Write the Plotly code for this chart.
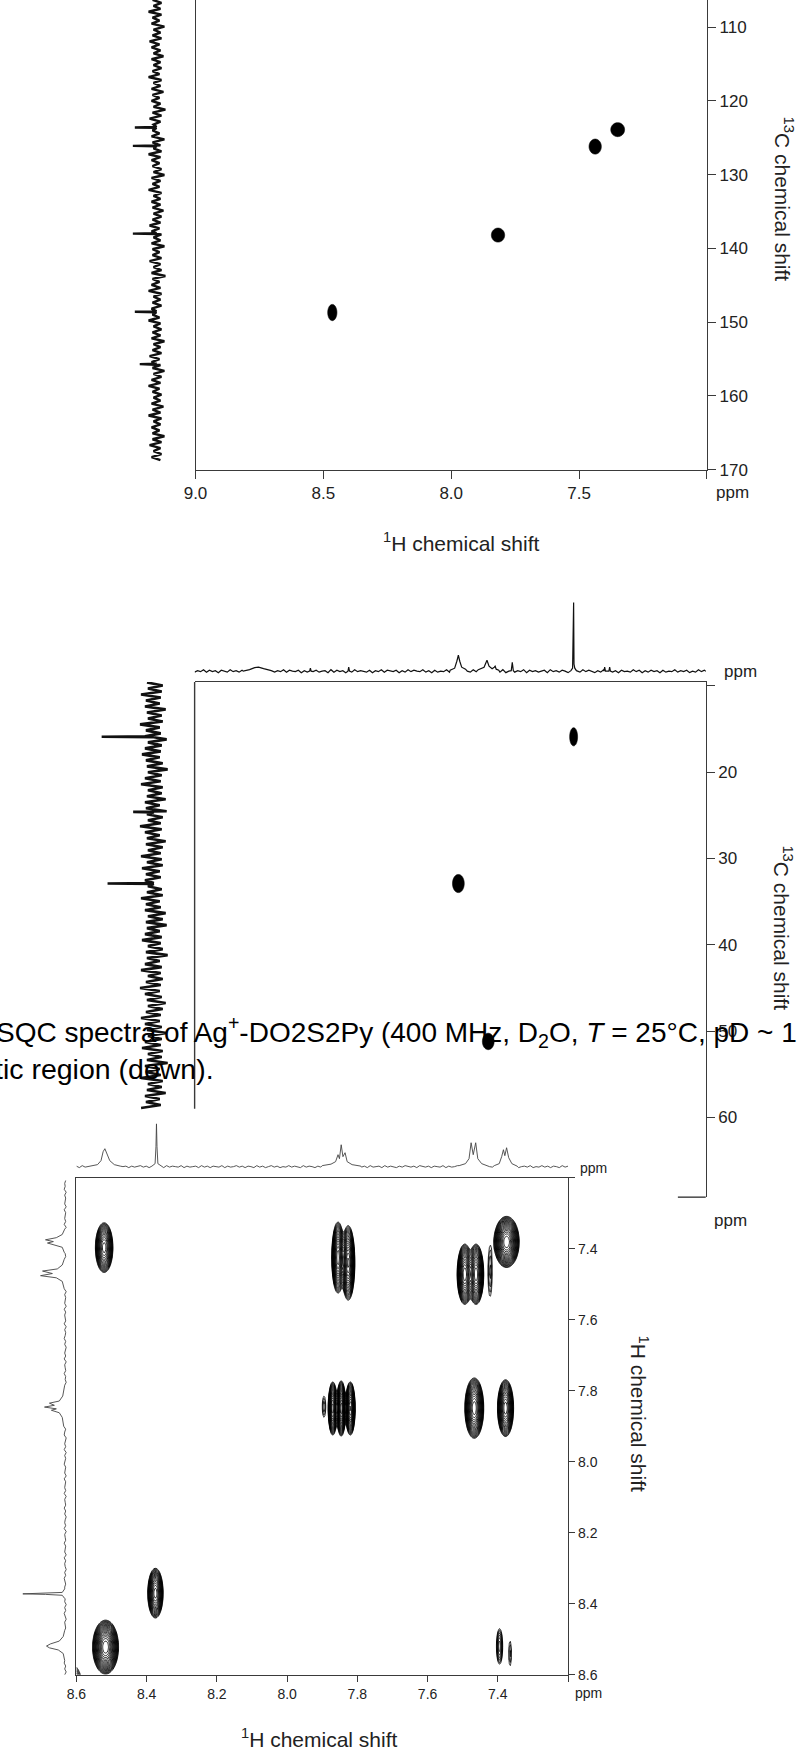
import numpy as np
import plotly.graph_objects as go

W, H = 801, 1759
FONT = "Liberation Sans, Arial, Helvetica, sans-serif"
INK = "#111111"
AXC = "#3a3a3a"

# ---------------- aromatic 1H-13C HSQC (top panel) ----------------
arom_H = [8.465, 7.817, 7.437, 7.349]
arom_C = [148.7, 138.2, 126.2, 123.9]
arom_semi_H = [0.018, 0.026, 0.024, 0.027]
arom_semi_C = [1.10, 0.95, 1.02, 0.95]
arom_C_ticks = [110, 120, 130, 140, 150, 160, 170]
arom_H_ticks = [9.0, 8.5, 8.0, 7.5, 7.0]
arom_H_ticktext = ["9.0", "8.5", "8.0", "7.5", ""]
# 13C projection (F1): line positions / heights and baseline noise
arom_C_lines = [123.6, 126.1, 138.0, 148.6, 155.7]
arom_C_heights = [22, 24, 24, 22, 17]
arom_C_noise = [
    4, -5, 3, -4, 8, -5, 4, -3, 5, -8, 3, -4, 4, -5, 7, -3, 5, -4, 3, -7,
    5, -4, 3, -5, 4, -3, 8, -5, 3, -4, 5, -7, 4, -3, 5, -4, 3, -9, 4, -5,
    7, -4, 3, -5, 4, -3, 5, -8, 4, -4, 3, -5, 8, -4, 5, -3, 4, -5, 3, -8,
    5, -4, 4, -3, 8, -5, 3, -4, 5, -4, 4, -7, 3, -5, 4, -4, 7, -3, 5, -5,
    3, -4, 5, -8, 4, -3, 4, -5, 7, -4, 3, -5, 5, -9, 4, -3, 5, -4, 8, -5,
    3, -4, 4, -5, 5, -7, 4, -3, 8, -4, 3, -5, 4, -4, 5, -8, 3, -4, 4, -5,
    7, -3, 5, -4, 4, -8, 3, -5, 5, -4, 8, -3, 4, -5, 3, -4, 5, -7, 4, -4,
    8, -5, 3, -4, 5, -3, 4, -8, 4, -5, 7, -4, 3, -5, 5, -4]

# ---------------- aliphatic 1H-13C HSQC (middle panel) ----------------
ali_H = [2.034, 2.936, 2.702]
ali_C = [15.9, 32.9, 51.2]
ali_semi_H = [0.031, 0.046, 0.046]
ali_semi_C = [1.05, 1.05, 0.95]
ali_C_ticks = [10, 20, 30, 40, 50, 60]
ali_C_ticktext = ["", "20", "30", "40", "50", "60"]
ali_C_lines = [15.9, 24.6, 32.9]
ali_C_heights = [53, 21, 47]
ali_C_noise = [
    7, -9, 6, -8, 13, -7, 8, -6, 9, -12, 7, -8, 6, -9, 14, -6, 8, -7, 9, -13,
    6, -8, 9, -7, 12, -6, 8, -9, 7, -14, 6, -8, 9, -7, 13, -9, 6, -8, 7, -12,
    9, -6, 8, -13, 7, -9, 6, -7, 14, -8, 9, -6, 7, -12, 8, -9, 6, -7, 13, -8,
    7, -9, 12, -6, 8, -7, 9, -14, 6, -8, 7, -9, 13, -6, 8, -7, 9, -12, 6, -9,
    8, -13, 7, -6, 9, -8, 12, -7, 6, -9, 8, -14, 7, -6, 9, -8, 13, -7, 6, -9,
    8, -7, 14, -6, 9, -8, 7, -12, 6, -9, 8, -7, 13, -6, 9, -8, 7, -13, 6, -8,
    9, -7, 12, -9, 6, -8, 7, -14, 9, -6, 8, -7, 13, -9, 6, -8, 7, -12, 9, -6,
    8, -7, 13]
# 1H projection (F2): (ppm, intensity) vertices of each signal
ali_H_peaks = [
    [(4.62, 0), (4.57, 1.5), (4.53, 3.5), (4.50, 4), (4.46, 2.5), (4.40, 0.5)],
    [(4.100, 0), (4.094, 3), (4.088, 0)],
    [(3.800, 0), (3.794, 4), (3.788, 0)],
    [(3.00, 1), (2.965, 3), (2.948, 10), (2.936, 16), (2.925, 10), (2.910, 4), (2.880, 2)],
    [(2.78, 1.5), (2.735, 4), (2.712, 11), (2.696, 5), (2.672, 2.5), (2.655, 4),
     (2.648, 5), (2.640, 2), (2.62, 1)],
    [(2.522, 0.5), (2.514, 9), (2.506, 0.5)],
    [(2.055, 0.5), (2.042, 3), (2.036, 8), (2.034, 69), (2.031, 7), (2.025, 3), (2.012, 0.5)],
    [(1.797, 0), (1.791, 4), (1.785, 0)],
    [(1.758, 0), (1.752, 4), (1.746, 0)],
]
ali_H_noise = [
    0.5, -1, 1, -0.5, 1.5, -1, 0, -1.5, 1, -0.5, 0.5, -1, 1.5, -0.5, 0, -1, 1, -1.5, 0.5, -0.5, 1, -1, 0.5, -1.5, 1,
    -0.5, 1.5, -1, 0, -0.5, 1, -1.5, 0.5, -1, 1, -0.5, 1.5, -1, 0.5, -1.5, 0, 1, -0.5, 1.5, -1, 0.5, -0.5, 1, -1.5, 0,
    1, -1, 0.5, -0.5, 1.5, -1.5, 1, 0, -1, 0.5, -0.5, 1, -1.5, 1.5, -0.5, 0.5, -1, 1, 0, -1.5, 1.5, -1, 0.5, -0.5, 1,
    -1, 0.5, -1.5, 1, -0.5, 1.5, -1, 0, 1, -1.5, 0.5, -0.5, 1, -1, 1.5, -0.5, 0, -1, 1, -1.5, 0.5, -1, 1.5, -0.5, 0,
    1, -0.5, 1.5, -1, 0.5, -1.5, 1, -0.5, 0, 1, -1, 1.5, -0.5, 0.5, -1.5, 1, -1, 0, 0.5, -0.5, 1.5, -1, 1, -1.5, 0.5,
    -0.5, 1, -1, 1.5, -1.5, 0.5, 0, -1, 1, -0.5, 1.5, -1, 0.5, -1.5, 1, -0.5, 0, 1, -1, 1.5, -0.5, 0.5, -1, 1, -1.5,
    0.5, -0.5, 1, -1, 1.5, -0.5, 0, -1.5, 1, -1, 0.5, -0.5, 1.5, -1, 0, 1, -1.5, 0.5, -0.5, 1, -1, 1.5, -0.5, 0.5, -1]

# ---------------- aromatic 1H-1H COSY (bottom panel) ----------------
cosy_x = [8.521, 7.855, 7.826, 7.494, 7.462, 7.422, 7.375, 7.895, 7.870, 7.846, 7.820,
          7.467, 7.378, 8.375, 8.517, 7.395, 7.365, 8.625]
cosy_y = [7.397, 7.425, 7.440, 7.472, 7.472, 7.465, 7.381, 7.845, 7.850, 7.850, 7.850,
          7.849, 7.849, 8.370, 8.522, 8.520, 8.540, 8.625]
cosy_semi_x = [0.025, 0.018, 0.019, 0.022, 0.022, 0.006, 0.036, 0.005, 0.013, 0.013, 0.014,
               0.027, 0.023, 0.022, 0.037, 0.009, 0.004, 0.040]
cosy_semi_y = [0.070, 0.100, 0.105, 0.085, 0.085, 0.070, 0.072, 0.030, 0.075, 0.078, 0.075,
               0.085, 0.080, 0.070, 0.076, 0.050, 0.035, 0.060]
cosy_depth = [3.0, 3.2, 3.3, 3.4, 3.4, 0.6, 3.6, 0.5, 3.0, 3.2, 3.1,
              3.4, 3.2, 3.0, 3.6, 1.2, 0.4, 2.0]
cosy_ticks = [8.6, 8.4, 8.2, 8.0, 7.8, 7.6, 7.4, 7.2]
cosy_ticktext = ["8.6", "8.4", "8.2", "8.0", "7.8", "7.6", "7.4", ""]
cosy_top_peaks = [
    [(8.560, 0.5), (8.540, 2), (8.530, 6), (8.524, 15), (8.519, 18), (8.513, 14), (8.505, 6), (8.492, 2), (8.475, 0.5)],
    [(8.385, 0.5), (8.376, 3), (8.3735, 20), (8.372, 43), (8.3705, 20), (8.368, 3), (8.358, 0.5)],
    [(7.900, 1), (7.875, 2.5), (7.862, 5), (7.855, 12), (7.851, 8), (7.846, 22), (7.841, 10),
     (7.835, 14), (7.829, 5), (7.815, 2), (7.790, 0.5)],
    [(7.510, 1), (7.492, 3), (7.482, 8), (7.476, 24), (7.470, 12), (7.463, 24), (7.457, 8), (7.446, 3), (7.430, 1)],
    [(7.410, 1), (7.396, 3), (7.389, 10), (7.384, 17), (7.380, 11), (7.375, 19), (7.369, 9), (7.360, 3), (7.345, 0.5)],
]
cosy_left_peaks = [
    [(8.560, 0.5), (8.540, 2), (8.530, 7), (8.524, 16), (8.519, 19), (8.513, 15), (8.505, 6), (8.492, 2), (8.475, 0.5)],
    [(8.385, 0.5), (8.376, 3), (8.3735, 20), (8.372, 43), (8.3705, 20), (8.368, 3), (8.358, 0.5)],
    [(7.900, 1.5), (7.875, 3), (7.862, 6), (7.855, 14), (7.851, 9), (7.846, 21), (7.841, 11),
     (7.835, 16), (7.829, 6), (7.815, 2.5), (7.790, 1)],
    [(7.510, 1.5), (7.492, 3), (7.482, 9), (7.476, 25), (7.470, 13), (7.463, 23), (7.457, 8), (7.446, 3), (7.430, 1)],
    [(7.410, 1), (7.396, 3), (7.389, 11), (7.384, 18), (7.380, 12), (7.375, 20), (7.369, 9), (7.360, 3), (7.345, 0.5)],
]
cosy_top_noise = [
    0.5, -0.5, 1, -1, 0, 0.5, -1, 0.5, -0.5, 1, -0.5, 0, -1, 1, -0.5, 0.5, 0, -1, 0.5, -0.5, 1, -1, 0.5, 0, -0.5,
    1, -0.5, 0, -1, 0.5, -0.5, 1, 0, -1, 0.5, -0.5, 0.5, -1, 1, 0, -0.5, 0.5, -1, 1, -0.5, 0, 0.5, -1, 0.5, -0.5,
    0, 1, -1, 0.5, -0.5, 0, 1, -0.5, 0.5, -1, 0, 0.5, -0.5, 1, -1, 0.5, 0, -0.5, 1, -1, 0.5, -0.5, 0, 1, -0.5,
    -1, 0.5, 0, -0.5, 1, -1, 0.5, -0.5, 0, 1, -0.5, 0.5, -1, 0, 0.5, -0.5, 1, -1, 0, 0.5, -0.5, 1, -0.5, 0, -1,
    0.5, -0.5, 1, 0, -1, 0.5, -0.5, 1, -1, 0, 0.5, -1, 0.5, -0.5, 1, 0, -0.5, 0.5, -1, 1, -0.5, 0, 0.5, -1, 0.5,
    -0.5, 1, -1, 0.5, 0, -0.5, 0.5, -1, 1, -0.5, 0, 0.5, -0.5, 1, -1, 0.5, -0.5, 0, 1, -1, 0.5, -0.5, 1, 0, -0.5,
    0.5, -1, 0.5, 0, -0.5, 1, -0.5, 0.5, -1, 0, 1, -0.5, 0.5, -1, 0.5, 0, -0.5, 1, -1, 0.5]
cosy_left_noise = [
    -0.5, 0.5, 0, 1, -1, 0.5, -0.5, 0, 0.5, -1, 1, -0.5, 0, 0.5, -0.5, 1, -1, 0, 0.5, -0.5, 1, -0.5, 0, -1, 0.5,
    0, -0.5, 1, -1, 0.5, 0, -0.5, 1, -0.5, 0.5, -1, 0, 1, -1, 0.5, -0.5, 0, 0.5, -1, 1, -0.5, 0.5, 0, -0.5, 1,
    -1, 0.5, -0.5, 0, 1, -0.5, 0.5, -1, 0, 0.5, -0.5, 1, -1, 0.5, 0, -0.5, 1, -0.5, 0, -1, 0.5, 1, -0.5, 0, 0.5,
    -0.5, 1, 0, -1, 0.5, -0.5, 1, -1, 0.5, 0, -0.5, 0.5, 1, -1, 0, 0.5, -0.5, 1, -1, 0.5, -0.5, 0, 1, -0.5, 0,
    0.5, -1, 1, -0.5, 0, 0.5, -0.5, 1, -1, 0.5, 0, -0.5, 1, -0.5, 0.5, -1, 0, 0.5, -0.5, 1, -1, 0.5, 0, -0.5, 1,
    -0.5, 0, 0.5, -1, 1, -0.5, 0.5, 0, -1, 0.5, -0.5, 1, 0, -0.5, 0.5, -1, 1, -0.5, 0, 0.5, -1, 0.5, -0.5, 1, 0,
    -1, 0.5, 0, -0.5, 1, -0.5, 0.5, -1, 0, 0.5, 1, -1, 0.5, -0.5, 0, 1, -0.5, 0.5, -1, 0.5]

CAPTION_1 = ("SQC spectra of Ag<sup>+</sup>-DO2S2Py (400 MHz, D<sub>2</sub>O, "
             "<i>T</i> = 25°C, pD ~ 1")
CAPTION_2 = "tic region (down)."


# ---------------- helpers ----------------
def dom_x(a, b):
    return [a / W, b / W]


def dom_y(top, bottom):
    return [1 - bottom / H, 1 - top / H]


def spectrum(lo, hi, noise, peaks):
    """Noisy baseline sampled on a uniform ppm grid with signal vertices spliced in."""
    grid = np.linspace(lo, hi, len(noise)).tolist()
    pts = list(zip(grid, noise))
    for pk in peaks:
        ps = [p for p, _ in pk]
        a, b = min(ps), max(ps)
        pts = [(p, v) for p, v in pts if not (a <= p <= b)]
        pts.extend(pk)
    pts.sort()
    return [p for p, _ in pts], [v for _, v in pts]


def spikes(positions, heights, half=0.06):
    return [[(p - half, 0), (p, h), (p + half, 0)] for p, h in zip(positions, heights)]


def blob(xc, yc, sx, sy, xa, ya):
    u = np.linspace(-1.6, 1.6, 49)
    z = np.exp(-(u[None, :] ** 2 + u[:, None] ** 2))
    return go.Contour(
        x=(xc + u * sx).tolist(), y=(yc + u * sy).tolist(), z=z.round(4).tolist(),
        xaxis=xa, yaxis=ya, showscale=False, hoverinfo="skip",
        zmin=0.3, zmax=0.45,
        contours=dict(start=np.exp(-1), end=np.exp(-1), size=0.1, coloring="fill"),
        colorscale=[[0, "rgba(0,0,0,0)"], [0.45, "rgba(0,0,0,0)"], [0.55, "#000"], [1, "#000"]],
        line=dict(width=0.6, color="#000"),
    )


fig = go.Figure()

# ---- top panel ----
for xc, yc, sx, sy in zip(arom_H, arom_C, arom_semi_H, arom_semi_C):
    fig.add_trace(blob(xc, yc, sx, sy, "x", "y"))
cy, cx = spectrum(106.3, 168.7, arom_C_noise, spikes(arom_C_lines, arom_C_heights))
fig.add_trace(go.Scatter(x=cx, y=cy, xaxis="x2", yaxis="y2", mode="lines",
                         line=dict(color=INK, width=2.4), hoverinfo="skip"))

# ---- middle panel ----
for xc, yc, sx, sy in zip(ali_H, ali_C, ali_semi_H, ali_semi_C):
    fig.add_trace(blob(xc, yc, sx, sy, "x3", "y3"))
hx, hy = spectrum(0.964, 5.0, ali_H_noise, ali_H_peaks)
fig.add_trace(go.Scatter(x=hx, y=hy, xaxis="x4", yaxis="y4", mode="lines",
                         line=dict(color=INK, width=1.2), hoverinfo="skip"))
cy2, cx2 = spectrum(9.6, 58.9, ali_C_noise, spikes(ali_C_lines, ali_C_heights, 0.05))
fig.add_trace(go.Scatter(x=cx2, y=cy2, xaxis="x5", yaxis="y5", mode="lines",
                         line=dict(color=INK, width=2.6), hoverinfo="skip"))

# ---- bottom panel: contour map built from the cross-peak list ----
gx = np.linspace(7.2, 8.6, 470)
gy = np.linspace(7.2, 8.6, 440)
GX, GY = np.meshgrid(gx, gy)
Z = np.zeros_like(GX)
for xc, yc, ax_, ay_, d in zip(cosy_x, cosy_y, cosy_semi_x, cosy_semi_y, cosy_depth):
    Z += np.exp(d * (1 - ((GX - xc) / ax_) ** 2 - ((GY - yc) / ay_) ** 2))
ZL = np.log(np.maximum(Z, np.exp(-2.0)))
fig.add_trace(go.Contour(
    x=gx.tolist(), y=gy.tolist(), z=ZL.round(2).tolist(), xaxis="x6", yaxis="y6",
    showscale=False, hoverinfo="skip",
    contours=dict(start=0.0, end=3.9, size=0.18, coloring="lines"),
    colorscale=[[0, "#000"], [1, "#000"]], line=dict(width=0.85),
))
tx, ty = spectrum(7.2, 8.6, cosy_top_noise, cosy_top_peaks)
fig.add_trace(go.Scatter(x=tx, y=ty, xaxis="x7", yaxis="y7", mode="lines",
                         line=dict(color="#444", width=0.9), hoverinfo="skip"))
ly, lx = spectrum(7.208, 8.6, cosy_left_noise, cosy_left_peaks)
fig.add_trace(go.Scatter(x=lx, y=ly, xaxis="x8", yaxis="y8", mode="lines",
                         line=dict(color="#444", width=0.9), hoverinfo="skip"))

# ---------------- axes ----------------
hidden = dict(visible=False, showgrid=False, zeroline=False, fixedrange=True)
big_tick = dict(family=FONT, size=17, color="#222")
small_tick = dict(family=FONT, size=14, color="#222")
axline = dict(showline=True, linecolor=AXC, linewidth=1.4, ticks="outside",
              tickcolor=AXC, tickwidth=1.4, showgrid=False, zeroline=False)

fig.update_layout(
    width=W, height=H, margin=dict(l=0, r=0, t=0, b=0),
    paper_bgcolor="white", plot_bgcolor="rgba(0,0,0,0)", showlegend=False,
    font=dict(family=FONT, color="#222"),
    # top panel
    xaxis=dict(domain=dom_x(186.3, 705.5), range=[9.0, 7.0], anchor="y",
               tickvals=arom_H_ticks, ticktext=arom_H_ticktext, ticklen=8,
               tickfont=big_tick, **axline),
    yaxis=dict(domain=dom_y(0, 472.3), range=[170, 106.32], anchor="x", side="right",
               mirror=True, tickvals=arom_C_ticks, ticklen=8, tickfont=big_tick, **axline),
    xaxis2=dict(domain=dom_x(100, 170), range=[46.7, -23.3], anchor="y2", **hidden),
    yaxis2=dict(domain=dom_y(0, 472.3), range=[170, 106.32], anchor="x2", **hidden),
    # middle panel
    xaxis3=dict(domain=dom_x(185.4, 704.3), range=[5.0, 1.0], anchor="y3", side="top",
                showline=True, linecolor=AXC, linewidth=1.4, ticks="", showticklabels=False,
                showgrid=False, zeroline=False),
    yaxis3=dict(domain=dom_y(686, 1204), range=[69.24, 9.56], anchor="x3", side="right",
                tickvals=ali_C_ticks, ticktext=ali_C_ticktext, ticklen=8,
                tickfont=big_tick, **axline),
    xaxis4=dict(domain=dom_x(185.4, 704.3), range=[5.0, 1.0], anchor="y4", **hidden),
    yaxis4=dict(domain=dom_y(600, 682), range=[-7, 75], anchor="x4", **hidden),
    xaxis5=dict(domain=dom_x(70, 170), range=[74, -26], anchor="y5", **hidden),
    yaxis5=dict(domain=dom_y(686, 1204), range=[69.24, 9.56], anchor="x5", **hidden),
    # bottom panel
    xaxis6=dict(domain=dom_x(65.4, 564.5), range=[8.6, 7.2], anchor="y6", mirror=True,
                tickvals=cosy_ticks, ticktext=cosy_ticktext, ticklen=6,
                tickfont=small_tick, **axline),
    yaxis6=dict(domain=dom_y(1184.4, 1684.4), range=[8.6, 7.2], anchor="x6", side="right",
                mirror=True, tickvals=cosy_ticks, ticktext=cosy_ticktext, ticklen=6,
                tickfont=small_tick, **axline),
    xaxis7=dict(domain=dom_x(65.4, 564.5), range=[8.6, 7.2], anchor="y7", **hidden),
    yaxis7=dict(domain=dom_y(1120, 1180), range=[-6.7, 53.3], anchor="x7", **hidden),
    xaxis8=dict(domain=dom_x(0, 62), range=[54, -8], anchor="y8", **hidden),
    yaxis8=dict(domain=dom_y(1184.4, 1684.4), range=[8.6, 7.2], anchor="x8", **hidden),
)


# frame pieces of the middle panel that are not axis lines
def pline(x0, y0, x1, y1):
    return dict(type="line", xref="paper", yref="paper", x0=x0 / W, x1=x1 / W,
                y0=1 - y0 / H, y1=1 - y1 / H, line=dict(color=AXC, width=1.4))


fig.update_layout(shapes=[pline(185.4, 686, 185.4, 1115), pline(676, 1204, 704.3, 1204)])


def label(text, x, y, size, angle=0, xanchor="center", color="#222"):
    return dict(text=text, x=x / W, y=1 - y / H, xref="paper", yref="paper",
                showarrow=False, textangle=angle, xanchor=xanchor, yanchor="middle",
                font=dict(family=FONT, size=size, color=color))


fig.update_layout(annotations=[
    label("ppm", 731.5, 495, 17),
    label("<sup>1</sup>H chemical shift", 456, 545, 21),
    label("<sup>13</sup>C chemical shift", 784, 200, 21, angle=90),
    label("ppm", 740, 675, 17),
    label("<sup>13</sup>C chemical shift", 783, 933, 21, angle=90),
    label("ppm", 729, 1227, 17),
    label(CAPTION_1, -18, 1038, 28, xanchor="left", color="#000"),
    label(CAPTION_2, -19, 1075, 28.5, xanchor="left", color="#000"),
    label("ppm", 590, 1175, 14),
    label("ppm", 585, 1703, 14),
    label("<sup>1</sup>H chemical shift", 637, 1422, 21, angle=90),
    label("<sup>1</sup>H chemical shift", 312, 1748, 21),
])

fig.write_html("out.html")
